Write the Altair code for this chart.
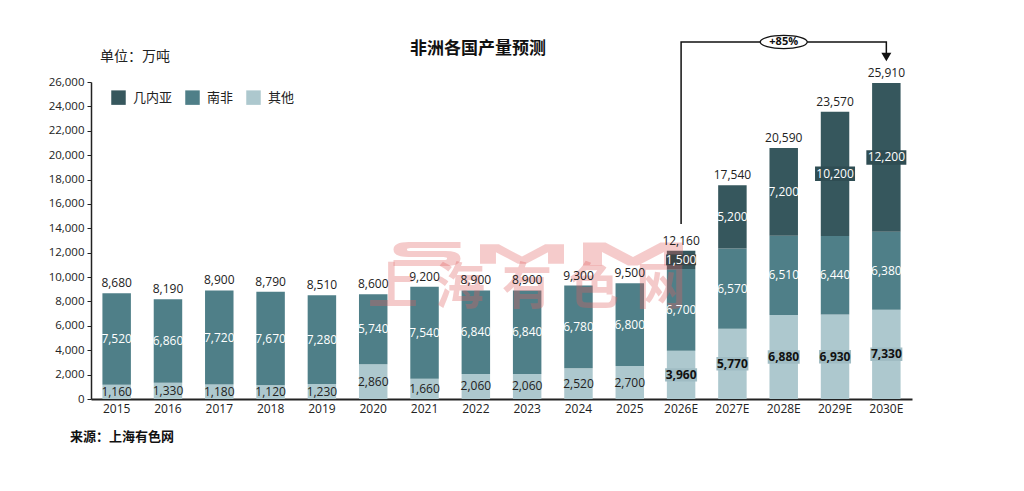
import altair as alt
import pandas as pd

years = ["2015", "2016", "2017", "2018", "2019", "2020", "2021", "2022", "2023",
         "2024", "2025", "2026E", "2027E", "2028E", "2029E", "2030E"]
guinea = [0, 0, 0, 0, 0, 0, 0, 0, 0, 0, 0, 1500, 5200, 7200, 10200, 12200]
south_africa = [7520, 6860, 7720, 7670, 7280, 5740, 7540, 6840, 6840, 6780, 6800,
                6700, 6570, 6510, 6440, 6380]
others = [1160, 1330, 1180, 1120, 1230, 2860, 1660, 2060, 2060, 2520, 2700,
          3960, 5770, 6880, 6930, 7330]
totals = [8680, 8190, 8900, 8790, 8510, 8600, 9200, 8900, 8900, 9300, 9500,
          12160, 17540, 20590, 23570, 25910]
series_names = ["几内亚", "南非", "其他"]
colors = ["#36575d", "#4f7f88", "#adc8ce"]

# growth bracket (2026E -> 2030E)
bracket_years = ["2026E", "2026E", "2030E", "2030E"]
bracket_vals = [14350, 29280, 29280, 28000]
growth_label = "+85%"

FONT = "Open Sans, Noto Sans CJK SC, sans-serif"
CJK = "Noto Sans CJK SC, sans-serif"

rows = []
for i, yr in enumerate(years):
    for s, vals, o in [("其他", others, 0), ("南非", south_africa, 1), ("几内亚", guinea, 2)]:
        rows.append({"year": yr, "series": s, "value": vals[i], "ord": o,
                     "fc": yr.endswith("E")})
df = pd.DataFrame(rows)
tot = pd.DataFrame({"year": years, "total": totals})
brk = pd.DataFrame({"year": bracket_years, "v": bracket_vals, "i": [0, 1, 2, 3]})

xscale = alt.Scale(domain=years, paddingInner=0.445, paddingOuter=0.2225)
yscale = alt.Scale(domain=[0, 26000], nice=False, zero=True)

xaxis = alt.Axis(title=None, labelAngle=0, ticks=False, labelFontSize=12,
                 labelColor="#222", labelPadding=4, domainColor="#222",
                 domainWidth=2, labelFont=FONT, grid=False)
yaxis = alt.Axis(title=None, values=list(range(0, 26001, 2000)), format=",.0f",
                 labelFontSize=11.5, labelColor="#222", tickSize=4,
                 tickColor="#222", domainColor="#222", domainWidth=1.5,
                 grid=False, labelPadding=3, labelFont=FONT)


def X():
    return alt.X("year:N", scale=xscale, sort=years, axis=xaxis)


def Y(field):
    return alt.Y(field, scale=yscale, axis=yaxis)


base = alt.Chart(df).transform_filter("datum.value > 0").transform_stack(
    stack="value", groupby=["year"], as_=["y0", "y1"],
    sort=[alt.SortField("ord", "ascending")]
).transform_calculate(mid="(datum.y0 + datum.y1) / 2")

bars = base.mark_bar().encode(
    x=X(), y=Y("y0:Q"), y2="y1:Q",
    color=alt.Color("series:N", scale=alt.Scale(domain=series_names, range=colors),
                    legend=alt.Legend(title=None, orient="none", legendX=20, legendY=8,
                                      direction="horizontal", symbolType="square",
                                      symbolSize=210, labelFontSize=13,
                                      labelColor="#222", columnPadding=12,
                                      labelOffset=7, symbolStrokeWidth=0,
                                      labelFont=CJK)),
)

RECT_W = "M-1,-0.36L1,-0.36L1,0.36L-1,0.36Z"
RECT_O = "M-1,-0.42L1,-0.42L1,0.42L-1,0.42Z"

guinea_bg = base.transform_filter("datum.series == '几内亚' && datum.value >= 10000").mark_point(
    shape=RECT_W, filled=True, size=40 * 40, color="#2f4d53", opacity=1
).encode(x=X(), y=Y("mid:Q"))

guinea_bg_small = base.transform_filter("datum.series == '几内亚' && datum.value < 2000").mark_point(
    shape=RECT_W, filled=True, size=30 * 30, color="#3b4446", opacity=1
).encode(x=X(), y=Y("mid:Q"))

others_bg = base.transform_filter("datum.series == '其他' && datum.fc").mark_point(
    shape=RECT_O, filled=True, size=32 * 32, color="#a0bcc3", opacity=1
).encode(x=X(), y=Y("mid:Q"))

# watermark (SMM 上海有色网)
S_PATH = ("M1,-0.36L-0.55,-0.36Q-1,-0.36,-1,-0.135Q-1,0.09,-0.55,0.09L0.5,0.09"
          "Q0.6,0.09,0.6,0.135Q0.6,0.18,0.5,0.18L-1,0.18L-1,0.36L0.55,0.36"
          "Q1,0.36,1,0.135Q1,-0.09,0.55,-0.09L-0.5,-0.09Q-0.6,-0.09,-0.6,-0.135"
          "Q-0.6,-0.18,-0.5,-0.18L1,-0.18Z")
M_PATH = ("M-1,0.23L-1,-0.23L-0.55,-0.23L0,0.06L0.55,-0.23L1,-0.23L1,0.23L0.62,0.23"
          "L0.62,-0.04L0.1,0.23L-0.1,0.23L-0.62,-0.04L-0.62,0.23Z")
WM_COLOR = "#e06060"
WM_OP = 0.33
wm_layers = []
for path, px, sz in [(S_PATH, 336, 67), (M_PATH, 431, 84), (M_PATH, 542, 100)]:
    wm_layers.append(
        alt.Chart(pd.DataFrame({"k": [0]})).mark_point(
            shape=path, filled=True, size=sz * sz, color=WM_COLOR, opacity=WM_OP,
            strokeWidth=0
        ).encode(x=alt.value(px), y=alt.value(172))
    )
for ch, px in [("上", 302), ("海", 369), ("有", 436), ("色", 503), ("网", 570)]:
    wm_layers.append(
        alt.Chart(pd.DataFrame({"t": [ch]})).mark_text(
            font=CJK, fontSize=50, fontWeight="bold",
            color=WM_COLOR, opacity=WM_OP, baseline="middle", align="center"
        ).encode(x=alt.value(px), y=alt.value(207), text="t:N")
    )

seg_white = base.transform_filter("datum.series != '其他'").mark_text(
    color="white", fontSize=12, font=FONT
).encode(x=X(), y=Y("mid:Q"), text=alt.Text("value:Q", format=","))

others_hist = base.transform_filter("datum.series == '其他' && !datum.fc").mark_text(
    color="#222", fontSize=12, font=FONT
).encode(x=X(), y=Y("mid:Q"), text=alt.Text("value:Q", format=","))

others_fc = base.transform_filter("datum.series == '其他' && datum.fc").mark_text(
    color="#111", fontSize=12, fontWeight="bold", font=FONT
).encode(x=X(), y=Y("mid:Q"), text=alt.Text("value:Q", format=","))

total_text = alt.Chart(tot).mark_text(
    color="#222", fontSize=12, dy=-10, font=FONT
).encode(x=X(), y=Y("total:Q"), text=alt.Text("total:Q", format=","))

bracket = alt.Chart(brk).mark_line(color="#111", strokeWidth=1.5, strokeJoin="miter").encode(
    x=X(), y=Y("v:Q"), order="i:Q"
)

arrow = alt.Chart(pd.DataFrame({"year": ["2030E"], "v": [28050]})).mark_point(
    shape="triangle-down", filled=True, size=100, color="#111", opacity=1
).encode(x=X(), y=Y("v:Q"))

ell_df = pd.DataFrame({"year": ["2028E"], "v": [29280], "t": [growth_label]})
ellipse = alt.Chart(ell_df).mark_point(
    shape="M-1,0A1,0.28,0,1,1,1,0A1,0.28,0,1,1,-1,0Z", filled=True, fill="white",
    stroke="#111", strokeWidth=1.2, size=47 * 47, opacity=1
).encode(x=X(), y=Y("v:Q"))
ell_text = alt.Chart(ell_df).mark_text(
    fontSize=11, fontWeight="bold", color="#111", font=FONT
).encode(x=X(), y=Y("v:Q"), text="t:N")

title = alt.Chart(pd.DataFrame({"t": ["非洲各国产量预测"]})).mark_text(
    fontSize=17, fontWeight="bold", color="#111", font=CJK, align="center", baseline="middle"
).encode(x=alt.value(387), y=alt.value(-33), text="t:N")

unit = alt.Chart(pd.DataFrame({"t": ["单位：万吨"]})).mark_text(
    fontSize=14, color="#222", font=CJK, align="left", baseline="middle"
).encode(x=alt.value(9), y=alt.value(-25), text="t:N")

source = alt.Chart(pd.DataFrame({"t": ["来源：上海有色网"]})).mark_text(
    fontSize=13, fontWeight="bold", color="#111", font=CJK, align="left", baseline="middle"
).encode(x=alt.value(-21), y=alt.value(355), text="t:N")

chart = alt.layer(
    bars, guinea_bg, others_bg, *wm_layers, guinea_bg_small, seg_white, others_hist,
    others_fc, total_text, bracket, arrow, ellipse, ell_text, title, unit, source
).properties(
    width=821, height=317,
    autosize=alt.AutoSizeParams(type="none"),
    padding={"left": 83, "top": 74, "right": 90, "bottom": 70},
    view=alt.ViewBackground(stroke="transparent", strokeWidth=0),
).configure_view(stroke="transparent", strokeWidth=0).configure_axis(
    grid=False
).configure(font=FONT)

chart.save("out.html", embed_options={"renderer": "svg", "actions": False})
